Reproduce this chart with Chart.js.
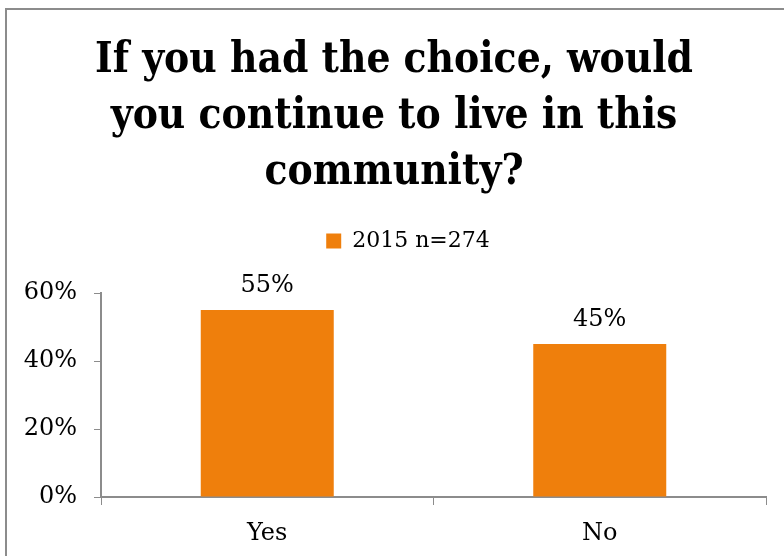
<!DOCTYPE html>
<html>
<head>
<meta charset="utf-8">
<script src="https://cdn.jsdelivr.net/npm/chart.js@4"></script>
<style>
  html, body { margin: 0; padding: 0; background: #fff; }
  #wrap { position: relative; width: 784px; height: 556px; }
  #frame {
    position: absolute; left: 5px; top: 8px; right: 0; bottom: 0;
    border-left: 2px solid #8c8c8c; border-top: 2px solid #8c8c8c;
    pointer-events: none;
  }
</style>
</head>
<body>
<div id="wrap">
  <canvas id="chart" width="784" height="556"></canvas>
  <div id="frame"></div>
</div>
<script>
// Survey answers, share of respondents
const categories = ['Yes', 'No'];
const seriesLabel = '2015 n=274';
const values = [55, 45];
const yTicks = [0, 20, 40, 60];

const titleLines = ['If you had the choice, would', 'you continue to live in this', 'community?'];

const serif = "'DejaVu Serif', serif";
const axisGrey = '#8c8c8c';
const orange = '#ef7f0c';

// prints the value above each bar
const valueLabels = {
    id: 'valueLabels',
    afterDatasetsDraw(chart) {
        const ctx = chart.ctx;
        const meta = chart.getDatasetMeta(0);
        ctx.save();
        ctx.font = '24px ' + serif;
        ctx.fillStyle = '#000';
        ctx.textAlign = 'center';
        ctx.textBaseline = 'middle';
        meta.data.forEach((bar, i) => {
            ctx.fillText(values[i] + '%', bar.x, bar.y - 24);
        });
        ctx.restore();
    }
};

// legend sits a little right of the title centre
const legendNudge = {
    id: 'legendNudge',
    afterLayout(chart) {
        chart.legend.left += 14;
        chart.legend.right += 14;
    }
};

new Chart(document.getElementById('chart'), {
    type: 'bar',
    data: {
        labels: categories,
        datasets: [{
            label: seriesLabel,
            data: values,
            backgroundColor: orange,
            borderWidth: 0,
            categoryPercentage: 0.4,
            barPercentage: 1.0
        }]
    },
    options: {
        responsive: false,
        animation: false,
        layout: { padding: { left: 22, right: 18, top: 0, bottom: 0 } },
        plugins: {
            title: {
                display: true,
                text: titleLines,
                color: '#000',
                font: { family: "'DejaVu Serif Condensed', " + serif, weight: 'bold', size: 42, lineHeight: '56px' },
                padding: { top: 33, bottom: 23 }
            },
            // empty spacer between legend and plot
            subtitle: {
                display: true,
                text: '',
                weight: 500,
                font: { size: 1, lineHeight: 1 },
                padding: { top: 0, bottom: 30 }
            },
            legend: {
                display: true,
                position: 'top',
                labels: {
                    color: '#000',
                    font: { family: serif, size: 22 },
                    boxWidth: 15,
                    boxHeight: 15,
                    padding: 6
                }
            },
            tooltip: { enabled: false }
        },
        scales: {
            x: {
                grid: { display: true, drawOnChartArea: false, drawTicks: true, tickLength: 8, color: axisGrey, offset: true },
                border: { display: true, color: axisGrey, width: 2 },
                ticks: { color: '#000', font: { family: serif, size: 24 }, padding: 14 },
                afterFit(scale) { scale.height = 59; }
            },
            y: {
                min: 0,
                max: 60,
                grid: { display: true, drawOnChartArea: false, drawTicks: true, tickLength: 7, color: axisGrey },
                border: { display: true, color: axisGrey, width: 2 },
                ticks: {
                    stepSize: 20,
                    color: '#000',
                    font: { family: serif, size: 24 },
                    padding: 17,
                    callback: v => yTicks.includes(v) ? v + '%' : ''
                },
                afterFit(scale) { scale.width = 79; }
            }
        }
    },
    plugins: [valueLabels, legendNudge]
});
</script>
</body>
</html>
